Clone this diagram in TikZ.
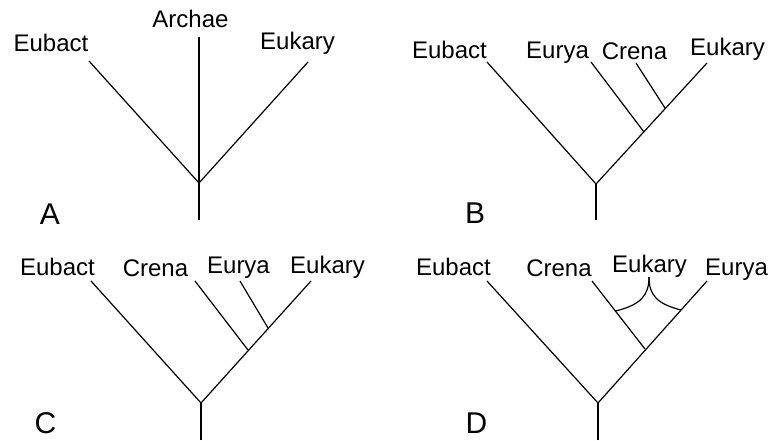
\documentclass[tikz,border=0pt]{standalone}
\usepackage{fontspec}
\setmainfont{Liberation Sans}

\begin{document}
\begin{tikzpicture}[x=1pt,y=-1pt,
	branch/.style={line width=1.2pt},
	taxon/.style={anchor=base,inner sep=0pt,font=\fontsize{24}{28}\selectfont},
	panel/.style={anchor=base,inner sep=0pt,font=\fontsize{30}{34}\selectfont}]
	\useasboundingbox (0,0) rectangle (768,440);

	% A
	\node[taxon] (eubA) at (51,51) {Eubact};
	\node[taxon] (arcA) at (190.5,27) {Archae};
	\node[taxon] (eukA) at (297.5,49) {Eukary};
	\node[panel] (labA) at (50,224) {A};
	\coordinate (rootA) at (199,220);
	\coordinate (forkA) at (199,183);
	\coordinate (tEubA) at (89,61);
	\coordinate (tArcA) at (199,37);
	\coordinate (tEukA) at (308,62);
	\draw[branch] (rootA) -- (forkA);
	\draw[branch] (forkA) -- (tEubA);
	\draw[branch] (forkA) -- (tArcA);
	\draw[branch] (forkA) -- (tEukA);

	% B
	\node[taxon] (eubB) at (449.5,58) {Eubact};
	\node[taxon] (eurB) at (557.5,58) {Eurya};
	\node[taxon] (creB) at (634.5,59) {Crena};
	\node[taxon] (eukB) at (727.5,55) {Eukary};
	\node[panel] (labB) at (475,223) {B};
	\coordinate (rootB) at (596,220);
	\coordinate (forkB) at (596,184);
	\coordinate (tEubB) at (487,62);
	\coordinate (tEukB) at (707,63);
	\coordinate (jEurB) at (644,132);
	\coordinate (tEurB) at (591,62);
	\coordinate (jCreB) at (665,108);
	\coordinate (tCreB) at (636,63);
	\draw[branch] (rootB) -- (forkB);
	\draw[branch] (forkB) -- (tEubB);
	\draw[branch] (forkB) -- (tEukB);
	\draw[branch] (jEurB) -- (tEurB);
	\draw[branch] (jCreB) -- (tCreB);

	% C
	\node[taxon] (eubC) at (57.5,275) {Eubact};
	\node[taxon] (creC) at (155.5,276) {Crena};
	\node[taxon] (eurC) at (238.5,273) {Eurya};
	\node[taxon] (eukC) at (327.5,273) {Eukary};
	\node[panel] (labC) at (45.5,433) {C};
	\coordinate (rootC) at (201,440);
	\coordinate (forkC) at (201,403);
	\coordinate (tEubC) at (91,281);
	\coordinate (tEukC) at (311,281);
	\coordinate (jCreC) at (248,350);
	\coordinate (tCreC) at (195,281);
	\coordinate (jEurC) at (268,328);
	\coordinate (tEurC) at (240,281);
	\draw[branch] (rootC) -- (forkC);
	\draw[branch] (forkC) -- (tEubC);
	\draw[branch] (forkC) -- (tEukC);
	\draw[branch] (jCreC) -- (tCreC);
	\draw[branch] (jEurC) -- (tEurC);

	% D
	\node[taxon] (eubD) at (453.5,275) {Eubact};
	\node[taxon] (creD) at (559,276) {Crena};
	\node[taxon] (eukD) at (649.5,272) {Eukary};
	\node[taxon] (eurD) at (736.5,275) {Eurya};
	\node[panel] (labD) at (476.5,433) {D};
	\coordinate (rootD) at (598,440);
	\coordinate (forkD) at (598,403);
	\coordinate (tEubD) at (487,281);
	\coordinate (tEurD) at (707,281);
	\coordinate (jCreD) at (645,349);
	\coordinate (tCreD) at (592,281);
	\coordinate (bLeftD) at (615.5,311);
	\coordinate (bRightD) at (681,310);
	\coordinate (bTopD) at (649,277);
	\draw[branch] (rootD) -- (forkD);
	\draw[branch] (forkD) -- (tEubD);
	\draw[branch] (forkD) -- (tEurD);
	\draw[branch] (jCreD) -- (tCreD);
	\draw[branch] (bLeftD) .. controls (640,305) and (649,296) .. (bTopD);
	\draw[branch] (bRightD) .. controls (658,304) and (649,296) .. (bTopD);
\end{tikzpicture}
\end{document}
